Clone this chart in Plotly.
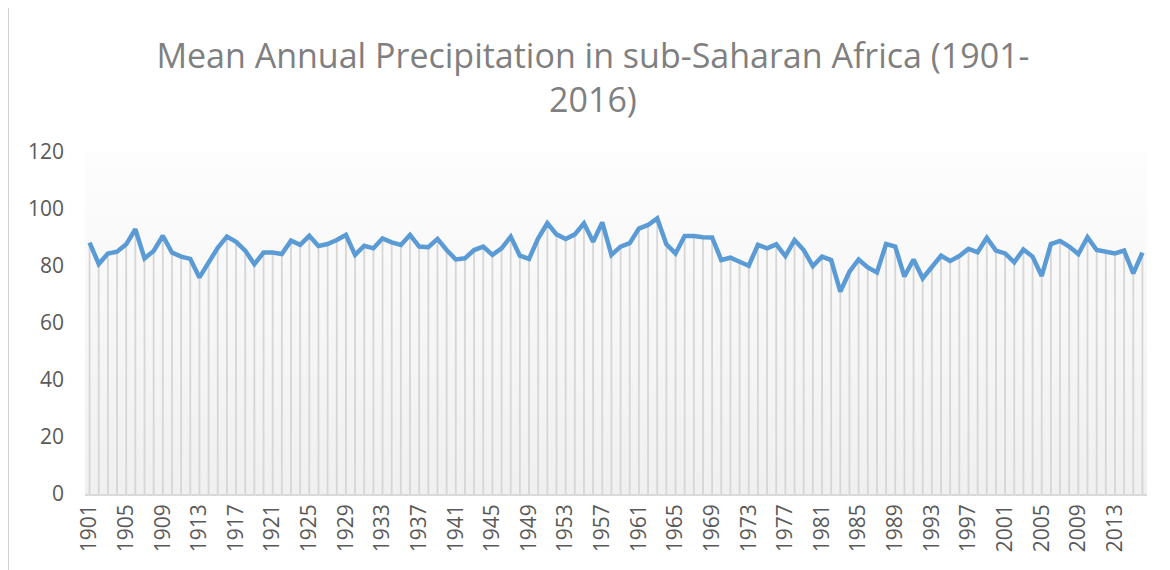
import plotly.graph_objects as go

years = list(range(1901, 2017))
precip = [
    88.2, 80.7, 84.4, 85.0, 87.6, 92.9, 82.7, 85.3, 90.6, 84.7,
    83.3, 82.5, 76.0, 81.5, 86.4, 90.3, 88.5, 85.4, 80.6, 84.7,
    84.7, 84.2, 88.9, 87.4, 90.6, 87.0, 87.7, 89.1, 90.9, 83.9,
    87.1, 86.2, 89.7, 88.3, 87.4, 90.9, 86.8, 86.6, 89.5, 85.6,
    82.3, 82.7, 85.6, 86.8, 83.9, 86.2, 90.3, 83.6, 82.5, 89.7,
    95.0, 91.1, 89.5, 91.1, 95.0, 88.5, 95.3, 83.9, 86.8, 88.0,
    93.1, 94.4, 96.7, 87.6, 84.4, 90.5, 90.5, 90.1, 90.0, 82.1,
    82.9, 81.5, 80.1, 87.4, 86.2, 87.6, 83.5, 89.1, 85.6, 80.0,
    83.3, 82.1, 71.0, 78.0, 82.3, 79.5, 77.7, 87.7, 86.8, 76.3,
    82.3, 75.7, 79.5, 83.6, 81.8, 83.5, 86.0, 84.8, 89.9, 85.4,
    84.4, 81.3, 85.8, 83.3, 76.5, 87.7, 88.8, 86.8, 84.2, 90.1,
    85.6, 85.0, 84.4, 85.4, 77.4, 84.7,
]
tick_years = list(range(1901, 2017, 4))
y_ticks = [0, 20, 40, 60, 80, 100, 120]
title_text = "Mean Annual Precipitation in sub-Saharan Africa (1901-<br>2016)"

x_lo, x_hi = years[0] - 0.5, years[-1] + 0.5
y_lo, y_hi = y_ticks[0], y_ticks[-1]

fig = go.Figure()

# plot-area gradient background
fig.add_trace(go.Scatter(
    x=[x_lo, x_hi, x_hi, x_lo, x_lo],
    y=[y_lo, y_lo, y_hi, y_hi, y_lo],
    fill="toself", mode="none", hoverinfo="skip", showlegend=False,
    fillgradient=dict(type="vertical",
                      colorscale=[[0, "#f0f0f0"], [1, "#fdfdfd"]]),
))

# drop lines (from each point down to the axis)
fig.add_trace(go.Scatter(
    x=years, y=precip, mode="markers",
    marker=dict(size=0.1, color="rgba(0,0,0,0)"),
    error_y=dict(type="data", symmetric=False,
                 array=[0] * len(precip), arrayminus=precip,
                 color="#d6d6d6", thickness=1.8, width=0),
    hoverinfo="skip", showlegend=False,
))

fig.add_trace(go.Scatter(
    x=years, y=precip, mode="lines",
    line=dict(color="#5b9bd5", width=4.5),
    showlegend=False,
))

fig.update_layout(
    width=1170, height=570,
    margin=dict(l=77, r=31, t=144, b=84),
    paper_bgcolor="white", plot_bgcolor="white",
    font=dict(family="Open Sans", color="#595959"),
    title=dict(text=title_text, x=0.5, xanchor="center", xref="container",
               y=0.895, yanchor="top",
               font=dict(family="Open Sans", size=34, color="#7f7f7f")),
    xaxis=dict(range=[x_lo, x_hi], tickmode="array", tickvals=tick_years,
               ticktext=[str(t) for t in tick_years], tickangle=-90,
               showgrid=False, zeroline=False, showline=True,
               linecolor="#d9d9d9", linewidth=1.5,
               tickfont=dict(size=21, color="#595959"), ticks=""),
    yaxis=dict(range=[y_lo, y_hi], tickmode="array", tickvals=y_ticks,
               showgrid=False, zeroline=False, showline=False,
               tickfont=dict(size=21, color="#595959"), ticks="",
               ticklabelstandoff=20),
    shapes=[
        dict(type="line", xref="paper", yref="paper",
             x0=-0.0725, x1=1.05, y0=1.424, y1=1.424,
             line=dict(color="#d0d0d0", width=2)),
        dict(type="line", xref="paper", yref="paper",
             x0=-0.0725, x1=-0.0725, y0=1.424, y1=-0.25,
             line=dict(color="#d0d0d0", width=2)),
    ],
)

fig.write_html("out.html")
